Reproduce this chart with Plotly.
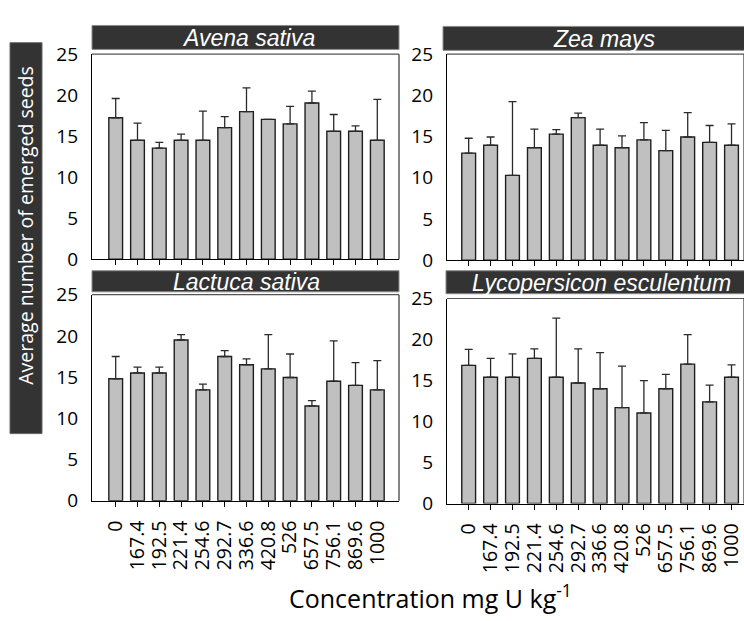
import plotly.graph_objects as go

W, H = 744, 621

categories = ["0", "167.4", "192.5", "221.4", "254.6", "292.7", "336.6",
              "420.8", "526", "657.5", "756.1", "869.6", "1000"]

species = ["Avena sativa", "Zea mays", "Lactuca sativa", "Lycopersicon esculentum"]

avena_mean = [17.25, 14.5, 13.55, 14.5, 14.5, 16.05, 18.0, 17.05, 16.5, 19.05, 15.6, 15.6, 14.5]
avena_err = [2.35, 2.1, 0.7, 0.75, 3.55, 1.35, 2.9, 0.0, 2.15, 1.45, 2.05, 0.65, 5.0]

zea_mean = [13.0, 13.95, 10.3, 13.65, 15.3, 17.3, 13.95, 13.65, 14.6, 13.3, 14.95, 14.3, 13.95]
zea_err = [1.8, 1.0, 8.95, 2.25, 0.55, 0.55, 1.95, 1.45, 2.1, 2.45, 2.95, 2.05, 2.6]

lactuca_mean = [14.8, 15.5, 15.5, 19.5, 13.45, 17.5, 16.5, 16.0, 14.95, 11.5, 14.5, 14.0, 13.45]
lactuca_err = [2.7, 0.7, 0.7, 0.65, 0.7, 0.7, 0.7, 4.15, 2.85, 0.65, 4.9, 2.75, 3.55]

lyco_mean = [16.85, 15.4, 15.4, 17.7, 15.4, 14.7, 14.0, 11.7, 11.05, 14.0, 17.0, 12.4, 15.4]
lyco_err = [1.95, 2.3, 2.85, 1.15, 7.2, 4.15, 4.4, 5.05, 3.95, 1.75, 3.6, 2.05, 1.5]

y_ticks = [0, 5, 10, 15, 20, 25]

means = [avena_mean, zea_mean, lactuca_mean, lyco_mean]
errs = [avena_err, zea_err, lactuca_err, lyco_err]

# panel geometry in pixels: (x_left, x_right, y_top, y_bottom, xmin, xmax)
panels = [
    (92, 399, 43, 257, -1.087, 12.995),
    (447, 744, 43, 258, -0.99, 12.57),
    (92, 399, 294, 509, -1.087, 12.995),
    (447, 744, 298, 512, -0.99, 12.57),
]
headers = [
    (92, 399, 13, 38, 248),
    (443, 770, 14, 39, 604),
    (92, 399, 269, 291, 246),
    (446, 770, 269, 293, 601),
]

FONT = "Open Sans"
fig = go.Figure()
shapes = []
annotations = []

for i in range(4):
    xl, xr, yt, yb, xmin, xmax = panels[i]
    ax = "" if i == 0 else str(i + 1)
    fig.add_trace(go.Bar(
        x=categories, y=means[i],
        xaxis="x" + ax, yaxis="y" + ax,
        width=0.63,
        marker=dict(color="#c0c0c0", line=dict(color="#1e1e1e", width=1.4)),
        error_y=dict(type="data", array=errs[i], arrayminus=[0] * 13,
                     symmetric=False, color="#2a2a2a", thickness=1.3, width=4),
        showlegend=False,
    ))
    show_x_labels = i >= 2
    fig.update_layout(**{
        "xaxis" + ax: dict(
            domain=[xl / W, xr / W], anchor="y" + ax, type="category",
            range=[xmin, xmax], showline=True, linecolor="#000", linewidth=1.2,
            tickmode="array", tickvals=categories, ticktext=categories,
            ticks="outside", ticklen=5, tickcolor="#000", tickwidth=1,
            showticklabels=show_x_labels, tickangle=-90, ticklabelstandoff=6,
            tickfont=dict(family=FONT, size=19.5, color="#000"),
            showgrid=False, zeroline=False, fixedrange=True,
        ),
        "yaxis" + ax: dict(
            domain=[1 - yb / H, 1 - yt / H], anchor="x" + ax,
            range=[0, 25], tickvals=y_ticks, showline=True, linecolor="#000",
            linewidth=1.2, ticks="", ticklabelstandoff=9,
            tickfont=dict(family=FONT, size=19, color="#000"),
            showgrid=False, zeroline=False, fixedrange=True,
        ),
    })
    # top and right frame lines (grey)
    shapes.append(dict(type="line", xref="paper", yref="paper",
                       x0=xl / W, x1=xr / W, y0=1 - yt / H, y1=1 - yt / H,
                       line=dict(color="#555", width=1.2)))
    shapes.append(dict(type="line", xref="paper", yref="paper",
                       x0=xr / W, x1=xr / W, y0=1 - yt / H, y1=1 - yb / H,
                       line=dict(color="#333", width=1.2)))
    # header bar
    hx0, hx1, hy0, hy1, tx = headers[i]
    shapes.append(dict(type="rect", xref="paper", yref="paper",
                       x0=hx0 / W, x1=hx1 / W, y0=1 - hy1 / H, y1=1 - hy0 / H,
                       fillcolor="#333333", line=dict(color="#8a8a8a", width=1),
                       layer="above"))
    annotations.append(dict(xref="paper", yref="paper", x=tx / W,
                            y=1 - ((hy0 + hy1) / 2 + 0.5) / H,
                            text="<i>" + species[i] + "</i>", showarrow=False,
                            xanchor="center", yanchor="middle",
                            font=dict(family="Liberation Sans", size=23, color="#fff")))

# y axis title box
shapes.append(dict(type="rect", xref="paper", yref="paper",
                   x0=10 / W, x1=42 / W, y0=1 - 439 / H, y1=1 - 31 / H,
                   fillcolor="#333333", line=dict(color="#666", width=1)))
annotations.append(dict(xref="paper", yref="paper", x=26 / W, y=1 - 222 / H,
                        text="Average number of emerged seeds", textangle=-90,
                        showarrow=False, xanchor="center", yanchor="middle",
                        font=dict(family=FONT, size=19.5, color="#fff")))
annotations.append(dict(xref="paper", yref="paper", x=430 / W, y=1 - 609 / H,
                        text="Concentration mg U kg<sup>-1</sup>",
                        showarrow=False, xanchor="center", yanchor="middle",
                        font=dict(family=FONT, size=25, color="#000")))

fig.update_layout(
    width=W, height=H, margin=dict(l=0, r=0, t=0, b=0),
    paper_bgcolor="#fff", plot_bgcolor="#fff",
    shapes=shapes, annotations=annotations, bargap=0.37,
)

fig.write_html("out.html", config={"displayModeBar": False})
